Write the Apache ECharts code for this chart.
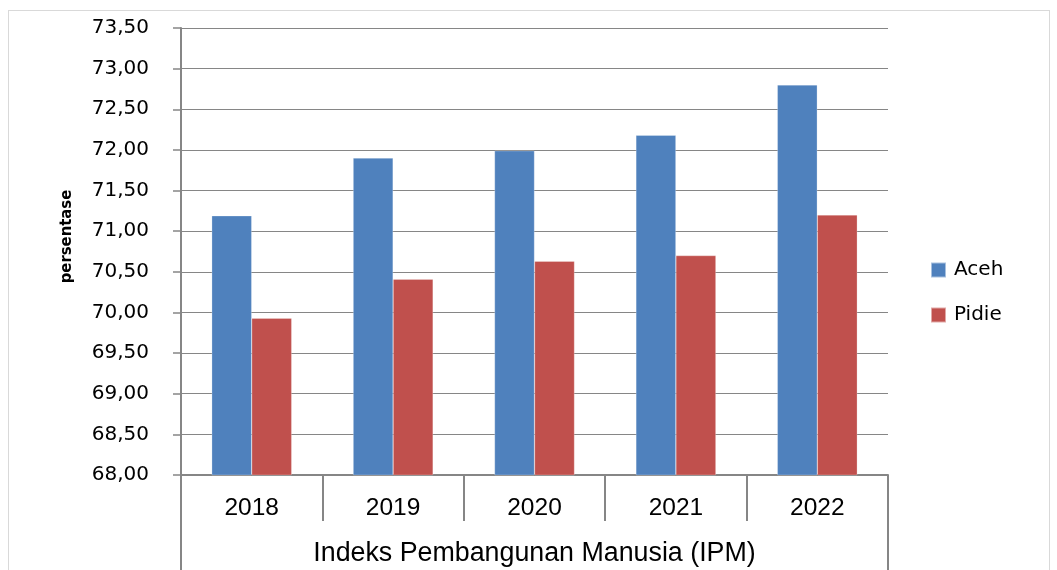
<!DOCTYPE html>
<html>
<head>
<meta charset="utf-8">
<script src="https://cdn.jsdelivr.net/npm/echarts@6/dist/echarts.min.js"></script>
<style>
  html, body { margin: 0; padding: 0; background: #fff; }
  #frame { position: absolute; left: 8px; top: 10px; width: 1040px; height: 600px; border: 1px solid #d9d9d9; }
  #chart { position: absolute; left: 0; top: 0; width: 1057px; height: 570px; }
</style>
</head>
<body>
<div id="frame"></div>
<div id="chart"></div>
<script>
const years = ['2018', '2019', '2020', '2021', '2022'];
const aceh = [71.19, 71.90, 71.99, 72.18, 72.80];
const pidie = [69.93, 70.41, 70.63, 70.70, 71.20];
const groupLabel = ['Indeks Pembangunan Manusia (IPM)'];

const chart = echarts.init(document.getElementById('chart'));
const grey = '#868686';

chart.setOption({
  animation: false,
  grid: { left: 181, right: 169, top: 28, bottom: 95, containLabel: false },
  legend: {
    orient: 'vertical',
    left: 925,
    top: 255,
    itemWidth: 15,
    itemHeight: 15,
    itemGap: 25,
    icon: 'rect',
    textStyle: { fontFamily: 'DejaVu Sans', fontSize: 20, color: '#000', padding: [0, 0, 0, 3] },
    data: ['Aceh', 'Pidie']
  },
  xAxis: [
    {
      type: 'category',
      data: years,
      axisLine: { lineStyle: { color: grey, width: 2 } },
      axisTick: { show: true, alignWithLabel: false, length: 46, lineStyle: { color: grey, width: 2 } },
      axisLabel: { margin: 21, fontFamily: 'Liberation Sans', fontSize: 24.5, color: '#000' }
    },
    {
      type: 'category',
      position: 'bottom',
      data: groupLabel,
      axisLine: { show: false },
      axisTick: { show: true, alignWithLabel: false, length: 95, lineStyle: { color: grey, width: 2 } },
      axisLabel: { margin: 65, fontFamily: 'Liberation Sans', fontSize: 26.8, color: '#000' }
    }
  ],
  yAxis: {
    type: 'value',
    min: 68,
    max: 73.5,
    interval: 0.5,
    name: 'persentase',
    nameLocation: 'middle',
    nameGap: 106,
    nameRotate: 90,
    nameTextStyle: { fontFamily: '"DejaVu Sans Condensed", "Liberation Sans", sans-serif', fontWeight: 'bold', fontSize: 16.5, color: '#000', padding: [0, 0, 0, 30] },
    axisLine: { show: true, lineStyle: { color: grey, width: 2 } },
    axisTick: { show: true, length: 8, lineStyle: { color: grey, width: 1.5 } },
    axisLabel: {
      margin: 32,
      fontFamily: 'DejaVu Sans',
      fontSize: 20,
      color: '#000',
      formatter: v => v.toFixed(2).replace('.', ',')
    },
    splitLine: { lineStyle: { color: grey, width: 1.2 } }
  },
  series: [
    {
      name: 'Aceh',
      type: 'bar',
      data: aceh,
      barWidth: 40,
      barGap: '0%',
      itemStyle: { color: '#4F81BD', borderColor: 'rgba(255,255,255,0.5)', borderWidth: 0.5 }
    },
    {
      name: 'Pidie',
      type: 'bar',
      data: pidie,
      barWidth: 40,
      barGap: '0%',
      itemStyle: { color: '#C0504D', borderColor: 'rgba(255,255,255,0.5)', borderWidth: 0.5 }
    }
  ]
});
</script>
</body>
</html>
